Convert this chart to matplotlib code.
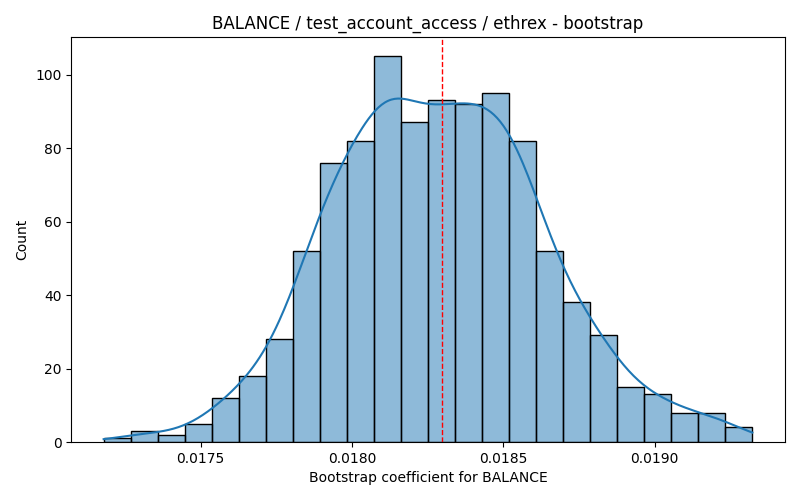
import matplotlib
matplotlib.use('Agg')
import matplotlib.pyplot as plt
import numpy as np

# bootstrap histogram
counts = [1, 3, 2, 5, 12, 18, 28, 52, 76, 82, 105, 87,
          93, 92, 95, 82, 52, 38, 29, 15, 13, 8, 8, 4]
bin_lo = 0.017180
bin_hi = 0.019323
point_estimate = 0.018298

title = 'BALANCE / test_account_access / ethrex - bootstrap'
xlabel = 'Bootstrap coefficient for BALANCE'

counts = np.array(counts, dtype=float)
edges = np.linspace(bin_lo, bin_hi, len(counts) + 1)
centers = (edges[:-1] + edges[1:]) / 2
width = edges[1] - edges[0]

fig, ax = plt.subplots(figsize=(8, 5), dpi=100)
ax.bar(edges[:-1], counts, width=width, align='edge',
       facecolor=(0.122, 0.467, 0.706, 0.5), edgecolor='black', linewidth=1)

# gaussian kde (scott) on the binned sample, clipped to data range like histplot
n = counts.sum()
mu = np.average(centers, weights=counts)
sd = np.sqrt(np.average((centers - mu) ** 2, weights=counts))
bw = sd * n ** (-1 / 5)
grid = np.linspace(bin_lo, bin_hi, 400)
dens = (counts[None, :] * np.exp(-0.5 * ((grid[:, None] - centers[None, :]) / bw) ** 2)).sum(axis=1)
dens = dens / (n * bw * np.sqrt(2 * np.pi))
ax.plot(grid, dens * n * width, color='C0', lw=1.5)

ax.axvline(point_estimate, color='red', linestyle='--', linewidth=1)
ax.set_title(title)
ax.set_xlabel(xlabel)
ax.set_ylabel('Count')
ax.set_xticks([0.0175, 0.0180, 0.0185, 0.0190])
ax.set_ylim(0, counts.max() * 1.05)

plt.subplots_adjust(left=0.089, right=0.981, top=0.926, bottom=0.116)
plt.savefig('out.png')
